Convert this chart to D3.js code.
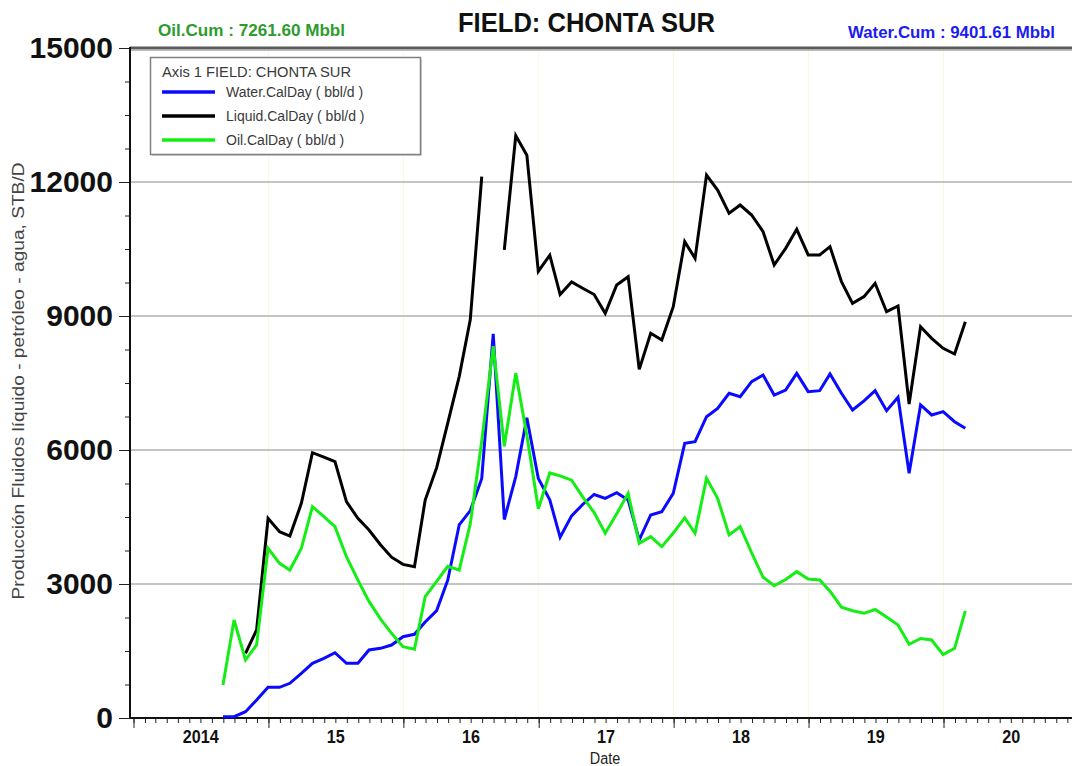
<!DOCTYPE html>
<html>
<head>
<meta charset="utf-8">
<script src="https://cdn.jsdelivr.net/npm/d3@7"></script>
<style>
  body { margin: 0; background: #fff; }
  svg { display: block; font-family: "Liberation Sans", Arial, sans-serif; }
</style>
</head>
<body>
<div id="chart"></div>
<script>
// monthly points, Aug 2014 .. Feb 2020 (plotted at month end)
const months = d3.timeMonth.range(new Date(2014, 7, 1), new Date(2020, 2, 1));

const water = [30, 30, 141, 403, 687, 687, 777, 1000, 1224, 1336, 1462, 1224, 1224, 1522, 1560, 1634,
  1820, 1874, 2150, 2404, 3085, 4323, 4643, 5364, 8601, 4444, 5404, 6723, 5364, 4885, 4046, 4525,
  4780, 5004, 4918, 5044, 4880, 3985, 4545, 4619, 5030, 6150, 6186, 6746, 6933, 7269, 7194, 7530,
  7679, 7231, 7343, 7716, 7306, 7328, 7702, 7269, 6896, 7100, 7328, 6880, 7180, 5478, 7008, 6784,
  6858, 6634, 6485];

const liquid = [null, null, 1448, 1970, 4470, 4171, 4074, 4806, 5940, 5840, 5738, 4843, 4470, 4209, 3880, 3600,
  3440, 3388, 4880, 5604, 6604, 7644, 8921, 12121, null, 10480, 13039, 12600, 10000, 10361, 9481, 9761,
  9620, 9481, 9060, 9694, 9880, 7805, 8612, 8463, 9209, 10664, 10291, 12157, 11821, 11299, 11485, 11261,
  10888, 10142, 10515, 10940, 10366, 10366, 10552, 9768, 9284, 9433, 9732, 9096, 9224, 7030, 8761, 8500,
  8276, 8149, 8872];

const oil = [739, 2194, 1298, 1634, 3799, 3463, 3313, 3799, 4731, 4510, 4283, 3612, 3087, 2611, 2219, 1896,
  1597, 1540, 2717, 3060, 3396, 3313, 4352, 6200, 8322, 6083, 7721, 6330, 4685, 5486, 5420, 5324,
  4950, 4600, 4135, 4570, 5030, 3911, 4060, 3835, 4140, 4480, 4135, 5366, 4918, 4100, 4283, 3700,
  3150, 2960, 3100, 3276, 3110, 3090, 2840, 2480, 2400, 2344, 2430, 2260, 2082, 1650, 1780, 1746,
  1420, 1560, 2400];

const yMajor = [0, 3000, 6000, 9000, 12000, 15000];
const yearLabels = ["2014", "15", "16", "17", "18", "19", "20"];
const legendItems = ["Water.CalDay ( bbl/d )", "Liquid.CalDay ( bbl/d )", "Oil.CalDay ( bbl/d )"];
const colors = { water: "#0a0aff", liquid: "#000000", oil: "#14ee14" };

const W = 1072, H = 766;
const pL = 130, pR = 1072, pT = 48, pB = 718;

const svg = d3.select("#chart").append("svg").attr("width", W).attr("height", H);

const x = d3.scaleTime()
  .domain([new Date(2014, 0, 1), new Date(2020, 0, 1)])
  .range([133.5, 943.5]);
const xa = x.copy().domain([x.invert(pL), x.invert(pR)]).range([pL, pR]);
const y = d3.scaleLinear().domain([0, 15000]).range([pB, pT]);

const monthEnd = m => new Date(m.getFullYear(), m.getMonth() + 1, 0);

// year grid (faint)
svg.append("g").selectAll("line")
  .data(d3.timeYear.range(new Date(2015, 0, 1), new Date(2021, 0, 2)))
  .enter().append("line")
  .attr("x1", d => x(d)).attr("x2", d => x(d))
  .attr("y1", pT).attr("y2", pB)
  .attr("stroke", "#faf7e4").attr("stroke-width", 1);

// horizontal grid
svg.append("g").selectAll("line")
  .data(yMajor.slice(1, -1))
  .enter().append("line")
  .attr("x1", pL).attr("x2", pR)
  .attr("y1", d => y(d)).attr("y2", d => y(d))
  .attr("stroke", "#c4c4c4").attr("stroke-width", 2);

// top frame line
svg.append("line").attr("x1", pL).attr("x2", pR).attr("y1", pT).attr("y2", pT)
  .attr("stroke", "#5a5a5a").attr("stroke-width", 3);
svg.append("line").attr("x1", pL).attr("x2", pR).attr("y1", pT + 2.5).attr("y2", pT + 2.5)
  .attr("stroke", "#bbbbbb").attr("stroke-width", 1);

// y axis
const yMinor = svg.append("g").attr("transform", `translate(${pL},0)`)
  .call(d3.axisLeft(y).tickValues(d3.range(0, 15001, 750)).tickSize(5).tickFormat(""));
yMinor.select(".domain").remove();
const yAx = svg.append("g").attr("transform", `translate(${pL},0)`)
  .call(d3.axisLeft(y).tickValues(yMajor).tickSize(11).tickPadding(6).tickFormat(d3.format("d")));
yAx.select(".domain").remove();
yAx.selectAll("text").attr("font-size", 30).attr("font-weight", "bold")
  .attr("fill", "#111").attr("font-family", "'Liberation Sans', Arial, sans-serif");

// x axis
const xMinor = svg.append("g").attr("transform", `translate(0,${pB})`)
  .call(d3.axisBottom(xa).ticks(d3.timeMonth.every(1)).tickSize(5).tickFormat(""));
xMinor.select(".domain").remove();
const xMaj = svg.append("g").attr("transform", `translate(0,${pB})`)
  .call(d3.axisBottom(xa).ticks(d3.timeYear.every(1)).tickSize(10).tickFormat(""));
xMaj.select(".domain").remove();
svg.selectAll(".tick line").attr("stroke", "#222");

svg.append("g").selectAll("text")
  .data(yearLabels)
  .enter().append("text")
  .attr("transform", (d, i) => `translate(${x(new Date(2014 + i, 6, 2))},${pB + 25}) scale(0.85,1)`)
  .attr("text-anchor", "middle")
  .attr("font-size", 19).attr("font-weight", "bold").attr("fill", "#111")
  .text(d => d);

// axis lines
svg.append("line").attr("x1", pL).attr("x2", pL).attr("y1", pT - 1).attr("y2", pB)
  .attr("stroke", "#111").attr("stroke-width", 2);
svg.append("line").attr("x1", pL).attr("x2", pR).attr("y1", pB).attr("y2", pB)
  .attr("stroke", "#111").attr("stroke-width", 2);

// series
const line = d3.line()
  .defined(d => d.v != null)
  .x(d => x(d.date))
  .y(d => y(d.v));

const series = [
  { key: "liquid", values: liquid },
  { key: "water", values: water },
  { key: "oil", values: oil }
];

svg.append("g").selectAll("path")
  .data(series)
  .enter().append("path")
  .attr("d", s => line(s.values.map((v, i) => ({ date: monthEnd(months[i]), v }))))
  .attr("fill", "none")
  .attr("stroke", s => colors[s.key])
  .attr("stroke-width", 3);

// legend
const lg = svg.append("g");
lg.append("rect").attr("x", 152).attr("y", 59).attr("width", 270).attr("height", 97)
  .attr("fill", "#d8d8d8");
lg.append("rect").attr("x", 150.5).attr("y", 57.5).attr("width", 270).attr("height", 97)
  .attr("fill", "#fff").attr("stroke", "#808080").attr("stroke-width", 1.5);
lg.append("text").attr("x", 162).attr("y", 77).attr("font-size", 14).attr("fill", "#3a3a3a")
  .attr("textLength", 189).attr("lengthAdjust", "spacingAndGlyphs")
  .text("Axis 1  FIELD: CHONTA SUR");
const lgKeys = ["water", "liquid", "oil"];
legendItems.forEach((t, i) => {
  const cy = 92 + i * 24;
  lg.append("line").attr("x1", 162).attr("x2", 215).attr("y1", cy).attr("y2", cy)
    .attr("stroke", colors[lgKeys[i]]).attr("stroke-width", 3.5);
  lg.append("text").attr("x", 226).attr("y", cy + 5).attr("font-size", 14).attr("fill", "#3a3a3a")
    .text(t);
});

// titles
svg.append("text").attr("x", 458).attr("y", 32).attr("font-size", 28).attr("font-weight", "bold")
  .attr("fill", "#111").attr("textLength", 257).attr("lengthAdjust", "spacingAndGlyphs")
  .text("FIELD: CHONTA SUR");
svg.append("text").attr("x", 158).attr("y", 36).attr("font-size", 16).attr("font-weight", "bold")
  .attr("fill", "#2e9b2e").attr("textLength", 187).attr("lengthAdjust", "spacingAndGlyphs")
  .text("Oil.Cum : 7261.60 Mbbl");
svg.append("text").attr("x", 848).attr("y", 38).attr("font-size", 16).attr("font-weight", "bold")
  .attr("fill", "#1c1cf0").attr("textLength", 207).attr("lengthAdjust", "spacingAndGlyphs")
  .text("Water.Cum : 9401.61 Mbbl");

// axis titles
svg.append("text").attr("transform", "translate(24,381) rotate(-90)")
  .attr("text-anchor", "middle").attr("font-size", 16).attr("fill", "#444")
  .attr("textLength", 437).attr("lengthAdjust", "spacingAndGlyphs")
  .text("Producción Fluidos líquido - petróleo - agua, STB/D");
svg.append("text").attr("transform", "translate(605,764) scale(0.85,1)")
  .attr("text-anchor", "middle").attr("font-size", 17).attr("fill", "#222")
  .text("Date");
</script>
</body>
</html>
